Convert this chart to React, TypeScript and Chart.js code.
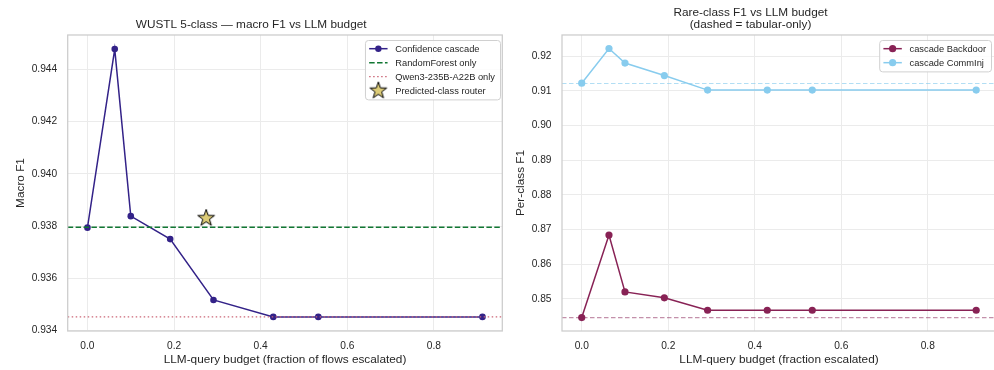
import React, { useEffect, useRef } from "react";
import { Chart, registerables } from "chart.js";

Chart.register(...registerables);

// ---------- data ----------
const BUDGET = [0.0, 0.063, 0.1, 0.191, 0.291, 0.429, 0.533, 0.912];
const CASCADE_F1 = [0.93794, 0.94478, 0.93838, 0.9375, 0.93517, 0.93452, 0.93452, 0.93452];
const RF_ONLY_F1 = 0.93795;
const LLM_ONLY_F1 = 0.93452;
const ROUTER_BUDGET = [0.274];
const ROUTER_F1 = [0.9383];

const BACKDOOR_F1 = [0.8446, 0.8684, 0.852, 0.8503, 0.8467, 0.8467, 0.8467, 0.8467];
const COMMINJ_F1 = [0.9122, 0.9222, 0.918, 0.9144, 0.9102, 0.9102, 0.9102, 0.9102];
const BACKDOOR_TABULAR = 0.8446;
const COMMINJ_TABULAR = 0.9121;

const X_TICKS = [0, 0.2, 0.4, 0.6, 0.8];
const LEFT_Y_TICKS = [0.934, 0.936, 0.938, 0.94, 0.942, 0.944];
const RIGHT_Y_TICKS = [0.85, 0.86, 0.87, 0.88, 0.89, 0.9, 0.91, 0.92];
const X_MIN = -0.0456;
const X_MAX = 0.9578;
const LEFT_Y_MIN = 0.93398;
const LEFT_Y_MAX = 0.94532;
const RIGHT_Y_MIN = 0.84072;
const RIGHT_Y_MAX = 0.9261;

// ---------- style ----------
const FONT = "'Liberation Sans', Arial, 'DejaVu Sans', sans-serif";
const TEXT = "#262626";
const GRID = "#ebebeb";
const SPINE = "#cccccc";
const NAVY = "#332288";
const GREEN = "#117733";
const ROSE = "#CC6677";
const SAND = "#DDCC77";
const WINE = "#882255";
const SKY = "#88CCEE";
const TICK_SIZE = 10.2;
const LABEL_SIZE = 11.8;
const LEGEND_SIZE = 9.3;

function makeStar(size: number) {
  const c = document.createElement("canvas");
  c.width = size;
  c.height = size;
  const ctx = c.getContext("2d")!;
  const cx = size / 2;
  const cy = size / 2;
  const R = 8.8;
  const r = R * 0.4;
  ctx.beginPath();
  for (let i = 0; i < 10; i++) {
    const ang = -Math.PI / 2 + (i * Math.PI) / 5;
    const rad = i % 2 === 0 ? R : r;
    const x = cx + rad * Math.cos(ang);
    const y = cy + rad * Math.sin(ang);
    if (i === 0) ctx.moveTo(x, y);
    else ctx.lineTo(x, y);
  }
  ctx.closePath();
  ctx.fillStyle = SAND;
  ctx.fill();
  ctx.lineWidth = 1;
  ctx.strokeStyle = "#000";
  ctx.stroke();
  return c;
}

type LegendEntry = {
  label: string;
  kind: "linemarker" | "line" | "star";
  color?: string;
  dash?: number[];
  width?: number;
  r?: number;
};

function spinePlugin() {
  return {
    id: "spines",
    afterDatasetsDraw(chart: any) {
      const { ctx, chartArea: a } = chart;
      ctx.save();
      ctx.strokeStyle = SPINE;
      ctx.lineWidth = 1.25;
      ctx.strokeRect(a.left, a.top, a.right - a.left, a.bottom - a.top);
      ctx.restore();
    },
  };
}

function legendPlugin(entries: LegendEntry[], gapRight: number, star: HTMLCanvasElement) {
  return {
    id: "boxLegend",
    afterDraw(chart: any) {
      const { ctx, chartArea: a } = chart;
      ctx.save();
      ctx.font = `${LEGEND_SIZE}px ${FONT}`;
      const tw = Math.max(...entries.map((e) => ctx.measureText(e.label).width));
      const padL = 4.2;
      const hl = 18.4;
      const gap = 7.7;
      const padR = 5;
      const w = padL + hl + gap + tw + padR;
      const h = 8.7 * 2 + (entries.length - 1) * 14;
      const x0 = a.right - gapRight - w;
      const y0 = a.top + 5;
      ctx.beginPath();
      if ((ctx as any).roundRect) (ctx as any).roundRect(x0 + 0.5, y0 + 0.5, w, h, 3);
      else ctx.rect(x0 + 0.5, y0 + 0.5, w, h);
      ctx.fillStyle = "rgba(255,255,255,0.85)";
      ctx.fill();
      ctx.strokeStyle = "#d0d0d0";
      ctx.lineWidth = 1;
      ctx.stroke();
      entries.forEach((e, i) => {
        const cy = y0 + 8.7 + i * 14;
        const hx = x0 + padL;
        if (e.kind === "star") {
          ctx.drawImage(star, hx + hl / 2 - star.width / 2, cy - star.height / 2);
        } else {
          ctx.beginPath();
          ctx.setLineDash(e.dash || []);
          ctx.strokeStyle = e.color!;
          ctx.lineWidth = e.width || 1.5;
          ctx.moveTo(hx, cy);
          ctx.lineTo(hx + hl, cy);
          ctx.stroke();
          ctx.setLineDash([]);
          if (e.kind === "linemarker") {
            ctx.beginPath();
            ctx.fillStyle = e.color!;
            ctx.arc(hx + hl / 2, cy, e.r || 3.2, 0, Math.PI * 2);
            ctx.fill();
          }
        }
        ctx.fillStyle = TEXT;
        ctx.textBaseline = "middle";
        ctx.textAlign = "left";
        ctx.fillText(e.label, hx + hl + gap, cy + 0.5);
      });
      ctx.restore();
    },
  };
}

function xScale(title: string) {
  return {
    type: "linear",
    min: X_MIN,
    max: X_MAX,
    afterBuildTicks: (s: any) => {
      s.ticks = X_TICKS.map((v) => ({ value: v }));
    },
    afterFit: (s: any) => {
      s.height = 39;
      s.paddingLeft = 0;
      s.paddingRight = 0;
      s.paddingTop = 0;
      s.paddingBottom = 0;
    },
    grid: { color: GRID, lineWidth: 1, drawTicks: false },
    border: { display: false },
    ticks: {
      padding: 9,
      color: TEXT,
      font: { family: FONT, size: TICK_SIZE },
      maxRotation: 0,
      autoSkip: false,
      callback: (v: any) => Number(v).toFixed(1),
    },
    title: {
      display: true,
      text: title,
      color: TEXT,
      font: { family: FONT, size: LABEL_SIZE },
      padding: { top: 0, bottom: 3.6 },
    },
  };
}

function yScale(title: string, min: number, max: number, ticks: number[], digits: number, width: number, titlePad: number) {
  return {
    type: "linear",
    min,
    max,
    afterBuildTicks: (s: any) => {
      s.ticks = ticks.map((v) => ({ value: v }));
    },
    afterFit: (s: any) => {
      s.width = width;
      s.paddingLeft = 0;
      s.paddingRight = 0;
      s.paddingTop = 0;
      s.paddingBottom = 0;
    },
    grid: { color: GRID, lineWidth: 1, drawTicks: false },
    border: { display: false },
    ticks: {
      padding: 10.5,
      color: TEXT,
      font: { family: FONT, size: TICK_SIZE },
      autoSkip: false,
      callback: (v: any) => Number(v).toFixed(digits),
    },
    title: {
      display: true,
      text: title,
      color: TEXT,
      font: { family: FONT, size: LABEL_SIZE },
      padding: { top: titlePad, bottom: 0 },
    },
  };
}

function hline(y: number, color: string, dash: number[], width: number, order: number) {
  return {
    data: [
      { x: X_MIN, y },
      { x: X_MAX, y },
    ],
    borderColor: color,
    borderDash: dash,
    borderWidth: width,
    pointRadius: 0,
    fill: false,
    order,
  };
}

export default function App() {
  const leftRef = useRef<HTMLCanvasElement>(null);
  const rightRef = useRef<HTMLCanvasElement>(null);

  useEffect(() => {
    const star = makeStar(20);

    const left = new Chart(leftRef.current!, {
      type: "line",
      data: {
        datasets: [
          {
            data: BUDGET.map((x, i) => ({ x, y: CASCADE_F1[i] })),
            borderColor: NAVY,
            backgroundColor: NAVY,
            borderWidth: 1.5,
            pointRadius: 3.3,
            pointBorderWidth: 0,
            tension: 0,
            order: 3,
          } as any,
          hline(RF_ONLY_F1, GREEN, [5.5, 2.4], 1.5, 2),
          hline(LLM_ONLY_F1, ROSE, [1.5, 2.5], 1.3, 1),
          {
            data: ROUTER_BUDGET.map((x, i) => ({ x, y: ROUTER_F1[i] })),
            showLine: false,
            pointStyle: star,
            pointRadius: 9,
            order: 0,
          } as any,
        ],
      },
      options: {
        responsive: false,
        animation: false,
        events: [],
        layout: { autoPadding: false, padding: { left: 0, right: 2.7, top: 0, bottom: 0 } },
        plugins: {
          legend: { display: false },
          tooltip: { enabled: false },
          title: {
            display: true,
            text: "WUSTL 5-class — macro F1 vs LLM budget",
            color: TEXT,
            font: { family: FONT, size: LABEL_SIZE, weight: "normal", lineHeight: 1.05 },
            padding: { top: 18.8, bottom: 3.8 },
          },
        },
        scales: {
          x: xScale("LLM-query budget (fraction of flows escalated)"),
          y: yScale("Macro F1", LEFT_Y_MIN, LEFT_Y_MAX, LEFT_Y_TICKS, 3, 67.7, 13.4),
        } as any,
      },
      plugins: [
        spinePlugin(),
        legendPlugin(
          [
            { label: "Confidence cascade", kind: "linemarker", color: NAVY, r: 3.2 },
            { label: "RandomForest only", kind: "line", color: GREEN, dash: [5.5, 2.4] },
            { label: "Qwen3-235B-A22B only", kind: "line", color: ROSE, dash: [1.5, 2.5], width: 1.3 },
            { label: "Predicted-class router", kind: "star" },
          ],
          2.3,
          star
        ),
      ],
    } as any);

    const right = new Chart(rightRef.current!, {
      type: "line",
      data: {
        datasets: [
          {
            data: BUDGET.map((x, i) => ({ x, y: BACKDOOR_F1[i] })),
            borderColor: WINE,
            backgroundColor: WINE,
            borderWidth: 1.5,
            pointRadius: 3.6,
            pointBorderWidth: 0,
            tension: 0,
            order: 1,
          } as any,
          {
            data: BUDGET.map((x, i) => ({ x, y: COMMINJ_F1[i] })),
            borderColor: SKY,
            backgroundColor: SKY,
            borderWidth: 1.5,
            pointRadius: 3.6,
            pointBorderWidth: 0,
            tension: 0,
            order: 1,
          } as any,
          hline(BACKDOOR_TABULAR, "rgba(136,34,85,0.5)", [4.5, 2.5], 1.2, 3),
          hline(COMMINJ_TABULAR, "rgba(136,204,238,0.65)", [4.5, 2.5], 1.2, 3),
        ],
      },
      options: {
        responsive: false,
        animation: false,
        events: [],
        layout: { autoPadding: false, padding: { left: 0, right: 4, top: 0, bottom: 0 } },
        plugins: {
          legend: { display: false },
          tooltip: { enabled: false },
          title: {
            display: true,
            text: ["Rare-class F1 vs LLM budget", "(dashed = tabular-only)"],
            color: TEXT,
            font: { family: FONT, size: LABEL_SIZE, weight: "normal", lineHeight: 1.05 },
            padding: { top: 6.5, bottom: 3.7 },
          },
        },
        scales: {
          x: xScale("LLM-query budget (fraction escalated)"),
          y: yScale("Per-class F1", RIGHT_Y_MIN, RIGHT_Y_MAX, RIGHT_Y_TICKS, 2, 57, 8.6),
        } as any,
      },
      plugins: [
        spinePlugin(),
        legendPlugin(
          [
            { label: "cascade Backdoor", kind: "linemarker", color: WINE, r: 3.6 },
            { label: "cascade CommInj", kind: "linemarker", color: SKY, r: 3.6 },
          ],
          5,
          star
        ),
      ],
    } as any);

    return () => {
      left.destroy();
      right.destroy();
    };
  }, []);

  return (
    <div
      style={{
        position: "absolute",
        left: 0,
        top: 0,
        width: 994,
        height: 370,
        overflow: "hidden",
        background: "#fff",
      }}
    >
      <canvas ref={leftRef} width={505} height={370} style={{ position: "absolute", left: 0, top: 0 }} />
      <canvas ref={rightRef} width={495} height={370} style={{ position: "absolute", left: 505, top: 0 }} />
    </div>
  );
}
